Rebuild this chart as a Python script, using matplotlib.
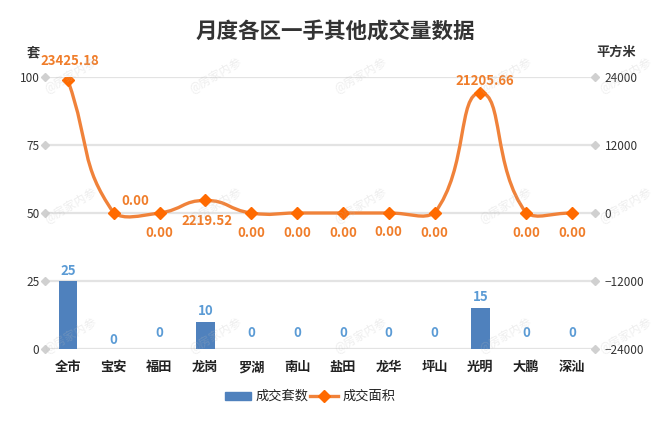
import matplotlib
matplotlib.use("Agg")
import matplotlib.pyplot as plt
import numpy as np
from matplotlib.path import Path
from matplotlib.patches import PathPatch
from matplotlib.lines import Line2D
from matplotlib.patches import Rectangle

plt.rcParams['font.family'] = ['Noto Sans CJK SC', 'DejaVu Sans']

categories = ['全市', '宝安', '福田', '龙岗', '罗湖', '南山', '盐田', '龙华', '坪山', '光明', '大鹏', '深汕']
units = [25, 0, 0, 10, 0, 0, 0, 0, 0, 15, 0, 0]
area = [23425.18, 0, 0, 2219.52, 0, 0, 0, 0, 0, 21205.66, 0, 0]
left_ticks = [0, 25, 50, 75, 100]
right_ticks = [-24000, -12000, 0, 12000, 24000]
title = '月度各区一手其他成交量数据'
series_names = ['成交套数', '成交面积']

# label offsets (pixels) - styling only
area_off = [(2, 19), (22, 12), (0, -20), (2, -21), (0, -20), (0, -20), (0, -20), (0, -19),
            (0, -20), (4, 12), (0, -20), (0, -20)]
unit_off = [10, 9, 16, 11, 16, 16, 16, 16, 16, 11, 16, 16]

W, H = 657, 433
fig = plt.figure(figsize=(W / 100, H / 100), dpi=100)
fig.patch.set_facecolor('white')

def fx(x):
    return x / W

def fy(y):
    return 1 - y / H

L, R, T, B = 45, 595, 77, 349
ax = fig.add_axes([fx(L), fy(B), (R - L) / W, (B - T) / H])
ax2 = ax.twinx()
x = np.arange(len(categories))
ax.set_xlim(-0.5, len(categories) - 0.5)
ax.set_ylim(0, 100)
ax2.set_ylim(-24000, 24000)
for a in (ax, ax2):
    for s in a.spines.values():
        s.set_visible(False)
    a.tick_params(length=0)
ax.patch.set_alpha(0)

# grid lines and diamond tick symbols
for t in left_ticks:
    ax.plot([-0.5, len(categories) - 0.5], [t, t], color='#e3e3e3', lw=1.6, zorder=0,
            solid_capstyle='butt')
    ax.plot([0, 1], [t, t], transform=ax.get_yaxis_transform(), ls='none', marker='D',
            ms=4, color='#d0d0d0', clip_on=False, zorder=1)

ax.set_yticks(left_ticks)
ax.set_yticklabels([str(t) for t in left_ticks], fontsize=8.5, color='#333333')
ax.tick_params(axis='y', pad=4)
ax2.set_yticks(right_ticks)
ax2.set_yticklabels([str(t).replace('-', '\u2212') for t in right_ticks], fontsize=8.5, color='#333333')
ax2.tick_params(axis='y', pad=7)
ax.set_xticks(x)
ax.set_xticklabels(categories, fontsize=9.5, fontweight='bold', color='#222222')
ax.tick_params(axis='x', pad=8)

# bars
bar_color = '#4f81bd'
ax.bar(x, units, width=0.4, color=bar_color, zorder=2)
for i, v in enumerate(units):
    ax.annotate(str(v), (x[i], v), xytext=(0, unit_off[i]), textcoords='offset pixels',
                ha='center', va='center', fontsize=9.5, fontweight='bold', color='#5b9bd5', zorder=5)

# smooth line (echarts-like bezier) computed in pixel space
line_color = '#f0823a'
fig.canvas.draw()
pts = ax2.transData.transform(np.column_stack([x, area]))
smooth = 0.5
ymin_px = pts[:, 1].min() - 7
ymax_px = pts[:, 1].max() + 7
cps = []
n = len(pts)
for i in range(n):
    p = pts[i]
    prev = pts[i - 1] if i > 0 else p
    nxt = pts[i + 1] if i < n - 1 else p
    v = (nxt - prev) * smooth
    d0 = np.hypot(*(p - prev))
    d1 = np.hypot(*(p - nxt))
    s = d0 + d1
    if s != 0:
        d0 /= s
        d1 /= s
    c0 = p - v * d0
    c1 = p + v * d1
    c0[1] = np.clip(c0[1], ymin_px, ymax_px)
    c1[1] = np.clip(c1[1], ymin_px, ymax_px)
    cps.append((c0, c1))
verts = [pts[0]]
codes = [Path.MOVETO]
for i in range(n - 1):
    verts += [cps[i][1], cps[i + 1][0], pts[i + 1]]
    codes += [Path.CURVE4] * 3
verts = ax2.transData.inverted().transform(np.array(verts))
path = Path(verts, codes)
ax2.add_patch(PathPatch(path, facecolor='none', edgecolor=line_color, lw=2.4, zorder=3,
                        capstyle='round', joinstyle='round'))
ax2.plot(x, area, ls='none', marker='D', ms=6, color='#ff6a00', zorder=4)
for i, v in enumerate(area):
    ax2.annotate(f'{v:.2f}', (x[i], v), xytext=area_off[i], textcoords='offset pixels',
                 ha='center', va='center', fontsize=9.5, fontweight='bold', color='#f07d2a', zorder=5)

# titles
fig.text(fx(335), fy(32), title, ha='center', va='center', fontsize=15.5, fontweight='bold',
         color='#333333')
fig.text(fx(33), fy(52), '套', ha='center', va='center', fontsize=9.5, fontweight='bold', color='#333333')
fig.text(fx(616), fy(52), '平方米', ha='center', va='center', fontsize=9.5, fontweight='bold', color='#333333')

# legend
fig.patches.append(Rectangle((fx(225), fy(400)), 26 / W, 8 / H, transform=fig.transFigure,
                             color=bar_color, figure=fig))
fig.text(fx(256), fy(396), series_names[0], ha='left', va='center', fontsize=9.5, color='#222222')
fig.lines.append(Line2D([fx(310), fx(338)], [fy(396), fy(396)], transform=fig.transFigure,
                        color=line_color, lw=2.4, figure=fig))
fig.lines.append(Line2D([fx(324)], [fy(396)], transform=fig.transFigure, marker='D', ms=6,
                        color='#ff6a00', ls='none', figure=fig))
fig.text(fx(343), fy(396), series_names[1], ha='left', va='center', fontsize=9.5, color='#222222')

# watermark
for wy in (75, 205, 335):
    for wx in (70, 215, 360, 505, 625):
        fig.text(fx(wx), fy(wy), '@房家内参', ha='center', va='center', fontsize=8.5,
                 rotation=30, color='#bbbbbb', alpha=0.25, zorder=0.5)

fig.savefig('out.png', dpi=100, facecolor='white')
